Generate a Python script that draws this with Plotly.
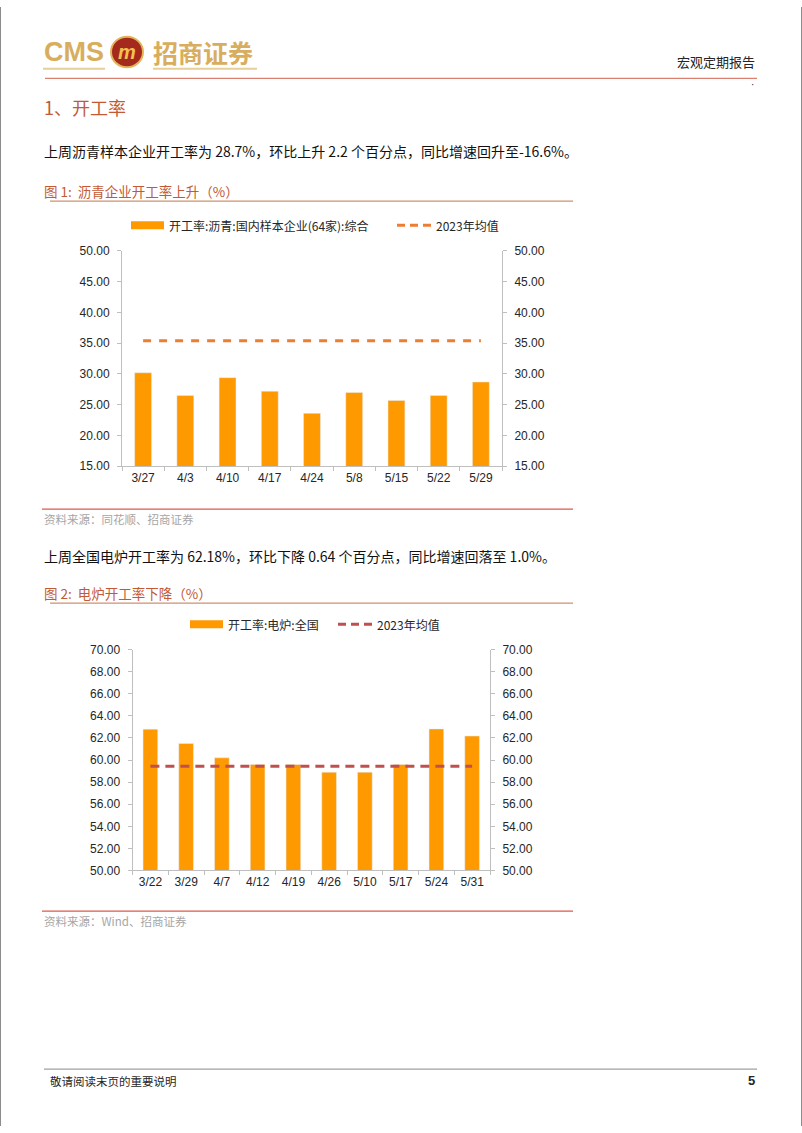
import plotly.graph_objects as go

# ---------------- data ----------------
c1_dates = ["3/27", "4/3", "4/10", "4/17", "4/24", "5/8", "5/15", "5/22", "5/29"]
c1_rate = [30.2, 26.5, 29.4, 27.2, 23.6, 27.0, 25.7, 26.5, 28.7]
c1_mean = 35.4
c1_bar_name = "开工率:沥青:国内样本企业(64家):综合"
c1_line_name = "2023年均值"

c2_dates = ["3/22", "3/29", "4/7", "4/12", "4/19", "4/26", "5/10", "5/17", "5/24", "5/31"]
c2_rate = [62.8, 61.5, 60.2, 59.6, 59.6, 58.9, 58.9, 59.6, 62.82, 62.18]
c2_mean = 59.45
c2_bar_name = "开工率:电炉:全国"
c2_line_name = "2023年均值"

W, H = 802, 1133
def X(px):
    return px / W
def Y(py):
    return 1 - py / H

FONT = "Liberation Sans, Arial, Noto Sans CJK SC, sans-serif"
CJK = "Noto Sans CJK SC, Liberation Sans, sans-serif"
BAR = "#FF9900"
LINE1 = "#ED7D31"
LINE2 = "#C0504D"
AX = "#BFBFBF"
TXT = "#262626"
HEAD = "#C25A36"

fig = go.Figure()

fig.add_trace(go.Bar(x=c1_dates, y=c1_rate, name=c1_bar_name, marker_color=BAR,
                     width=0.4, xaxis="x", yaxis="y", showlegend=False))
fig.add_trace(go.Scatter(x=c1_dates, y=[c1_mean] * len(c1_dates), name=c1_line_name,
                         mode="lines", line=dict(color=LINE1, width=3, dash="8px,8px"),
                         xaxis="x", yaxis="y2", showlegend=False))
fig.add_trace(go.Bar(x=c2_dates, y=c2_rate, name=c2_bar_name, marker_color=BAR,
                     width=0.41, xaxis="x2", yaxis="y3", showlegend=False))
fig.add_trace(go.Scatter(x=c2_dates, y=[c2_mean] * len(c2_dates), name=c2_line_name,
                         mode="lines", line=dict(color=LINE2, width=3, dash="9px,6px"),
                         xaxis="x2", yaxis="y4", showlegend=False))

xcommon = dict(type="category", showline=True, linecolor=AX, linewidth=1,
               ticks="outside", tickson="boundaries", ticklen=4, tickcolor=AX,
               tickfont=dict(family=FONT, size=12, color=TXT), showgrid=False,
               zeroline=False, fixedrange=True)
ycommon = dict(showline=True, linecolor=AX, linewidth=1, ticks="outside", ticklen=4,
               tickcolor=AX, tickformat=".2f", showgrid=False, zeroline=False,
               tickfont=dict(family=FONT, size=12, color=TXT), ticklabelstandoff=5,
               fixedrange=True)

fig.update_layout(
    width=W, height=H, margin=dict(l=0, r=0, t=0, b=0),
    paper_bgcolor="white", plot_bgcolor="white", showlegend=False,
    xaxis=dict(domain=[X(122), X(502)], anchor="y", **xcommon),
    yaxis=dict(domain=[Y(465), Y(247)], range=[15, 50], dtick=5, tick0=15,
               anchor="x", side="left", **ycommon),
    yaxis2=dict(range=[15, 50], dtick=5, tick0=15, overlaying="y", anchor="x",
                side="right", **ycommon),
    xaxis2=dict(domain=[X(132.5), X(490)], anchor="y3", **xcommon),
    yaxis3=dict(domain=[Y(874.3), Y(650.7)], range=[50, 70], dtick=2, tick0=50,
                anchor="x2", side="left", **ycommon),
    yaxis4=dict(range=[50, 70], dtick=2, tick0=50, overlaying="y3", anchor="x2",
                side="right", **ycommon),
)

shapes = []
ann = []

def hline(x0, x1, y, color, width=1):
    shapes.append(dict(type="line", xref="paper", yref="paper", x0=X(x0), x1=X(x1),
                       y0=Y(y), y1=Y(y), line=dict(color=color, width=width)))

def text(x, y, s, size, color=TXT, family=CJK, xanchor="left", bold=False):
    if bold:
        s = "<b>" + s + "</b>"
    ann.append(dict(xref="paper", yref="paper", x=X(x), y=Y(y), text=s, showarrow=False,
                    xanchor=xanchor, yanchor="middle",
                    font=dict(family=family, size=size, color=color)))

# page border (left / right edges)
shapes.append(dict(type="line", xref="paper", yref="paper", x0=X(0.5), x1=X(0.5), y0=0, y1=1,
                   line=dict(color="#8C8C8C", width=1)))
shapes.append(dict(type="line", xref="paper", yref="paper", x0=X(801.5), x1=X(801.5), y0=0, y1=1,
                   line=dict(color="#8C8C8C", width=1)))

# ---- header ----
GOLD = "#D8AE5E"
text(42, 46, "CMS", 27, GOLD, "Liberation Sans, sans-serif", bold=True)
shapes.append(dict(type="circle", xref="paper", yref="paper", x0=X(111), x1=X(143),
                   y0=Y(61), y1=Y(30), fillcolor="#A52A1E", line=dict(color="#E3B45A", width=2)))
text(127, 46, "<i>m</i>", 20, "#F2C14E", "Liberation Sans, sans-serif", xanchor="center", bold=True)
text(151, 46, "招商证券", 25, GOLD, CJK, bold=True)
hline(43, 105, 62.5, "#E6CF98", 2)
hline(153, 257, 62.5, "#E6CF98", 2)
text(757, 55, "宏观定期报告", 13, TXT, CJK, xanchor="right")
hline(45, 757, 72.3, "#D98070", 1.2)
text(752, 78, "·", 10, TXT, FONT, xanchor="center")

# ---- section 1 ----
text(42, 101, "1、开工率", 18, HEAD, CJK)
text(42, 146, "上周沥青样本企业开工率为 28.7%，环比上升 2.2 个百分点，同比增速回升至-16.6%。", 14, "#111111", CJK)
text(42, 186, "图 1:  沥青企业开工率上升（%）", 13.5, HEAD, CJK)
hline(50, 573, 196.5, "#D0906E", 1.3)

# legend 1 (manual)
shapes.append(dict(type="rect", xref="paper", yref="paper", x0=X(131), x1=X(164),
                   y0=Y(225), y1=Y(217), fillcolor=BAR, line=dict(width=0)))
text(167, 221, c1_bar_name, 12, TXT, CJK)
shapes.append(dict(type="line", xref="paper", yref="paper", x0=X(397), x1=X(432),
                   y0=Y(221), y1=Y(221), line=dict(color=LINE1, width=3, dash="8px,5px")))
text(434, 221, c1_line_name, 12, TXT, CJK)

hline(42, 573, 508.5, "#E0574A", 1.3)
text(42, 518, "资料来源：同花顺、招商证券", 11.5, "#A6A6A6", CJK)

# ---- section 2 ----
text(42, 556, "上周全国电炉开工率为 62.18%，环比下降 0.64 个百分点，同比增速回落至 1.0%。", 14, "#111111", CJK)
text(42, 593, "图 2:  电炉开工率下降（%）", 13.5, HEAD, CJK)
hline(50, 573, 603.5, "#D0906E", 1.3)

shapes.append(dict(type="rect", xref="paper", yref="paper", x0=X(190), x1=X(223),
                   y0=Y(629), y1=Y(621), fillcolor=BAR, line=dict(width=0)))
text(226, 625, c2_bar_name, 12, TXT, CJK)
shapes.append(dict(type="line", xref="paper", yref="paper", x0=X(338), x1=X(372),
                   y0=Y(625), y1=Y(625), line=dict(color=LINE2, width=3, dash="8px,5px")))
text(375, 625, c2_line_name, 12, TXT, CJK)

hline(42, 573, 915.5, "#E0574A", 1.3)
text(42, 925, "资料来源：Wind、招商证券", 11.5, "#A6A6A6", CJK)

# ---- footer ----
hline(44, 757, 1075.5, "#A0A0A0", 1.3)
text(48, 1087, "敬请阅读末页的重要说明", 11.5, TXT, CJK)
text(757, 1087, "5", 13, TXT, "Liberation Sans, sans-serif", xanchor="right", bold=True)

fig.update_layout(shapes=shapes, annotations=ann)
fig.write_html(
    "out.html",
    config={"displayModeBar": False, "staticPlot": True},
    post_script=(
        "document.documentElement.style.margin='0';"
        "document.documentElement.style.overflow='hidden';"
        "document.body.style.margin='0';"
        "document.body.style.padding='0';"
        "document.body.style.overflow='hidden';"
    ),
)
